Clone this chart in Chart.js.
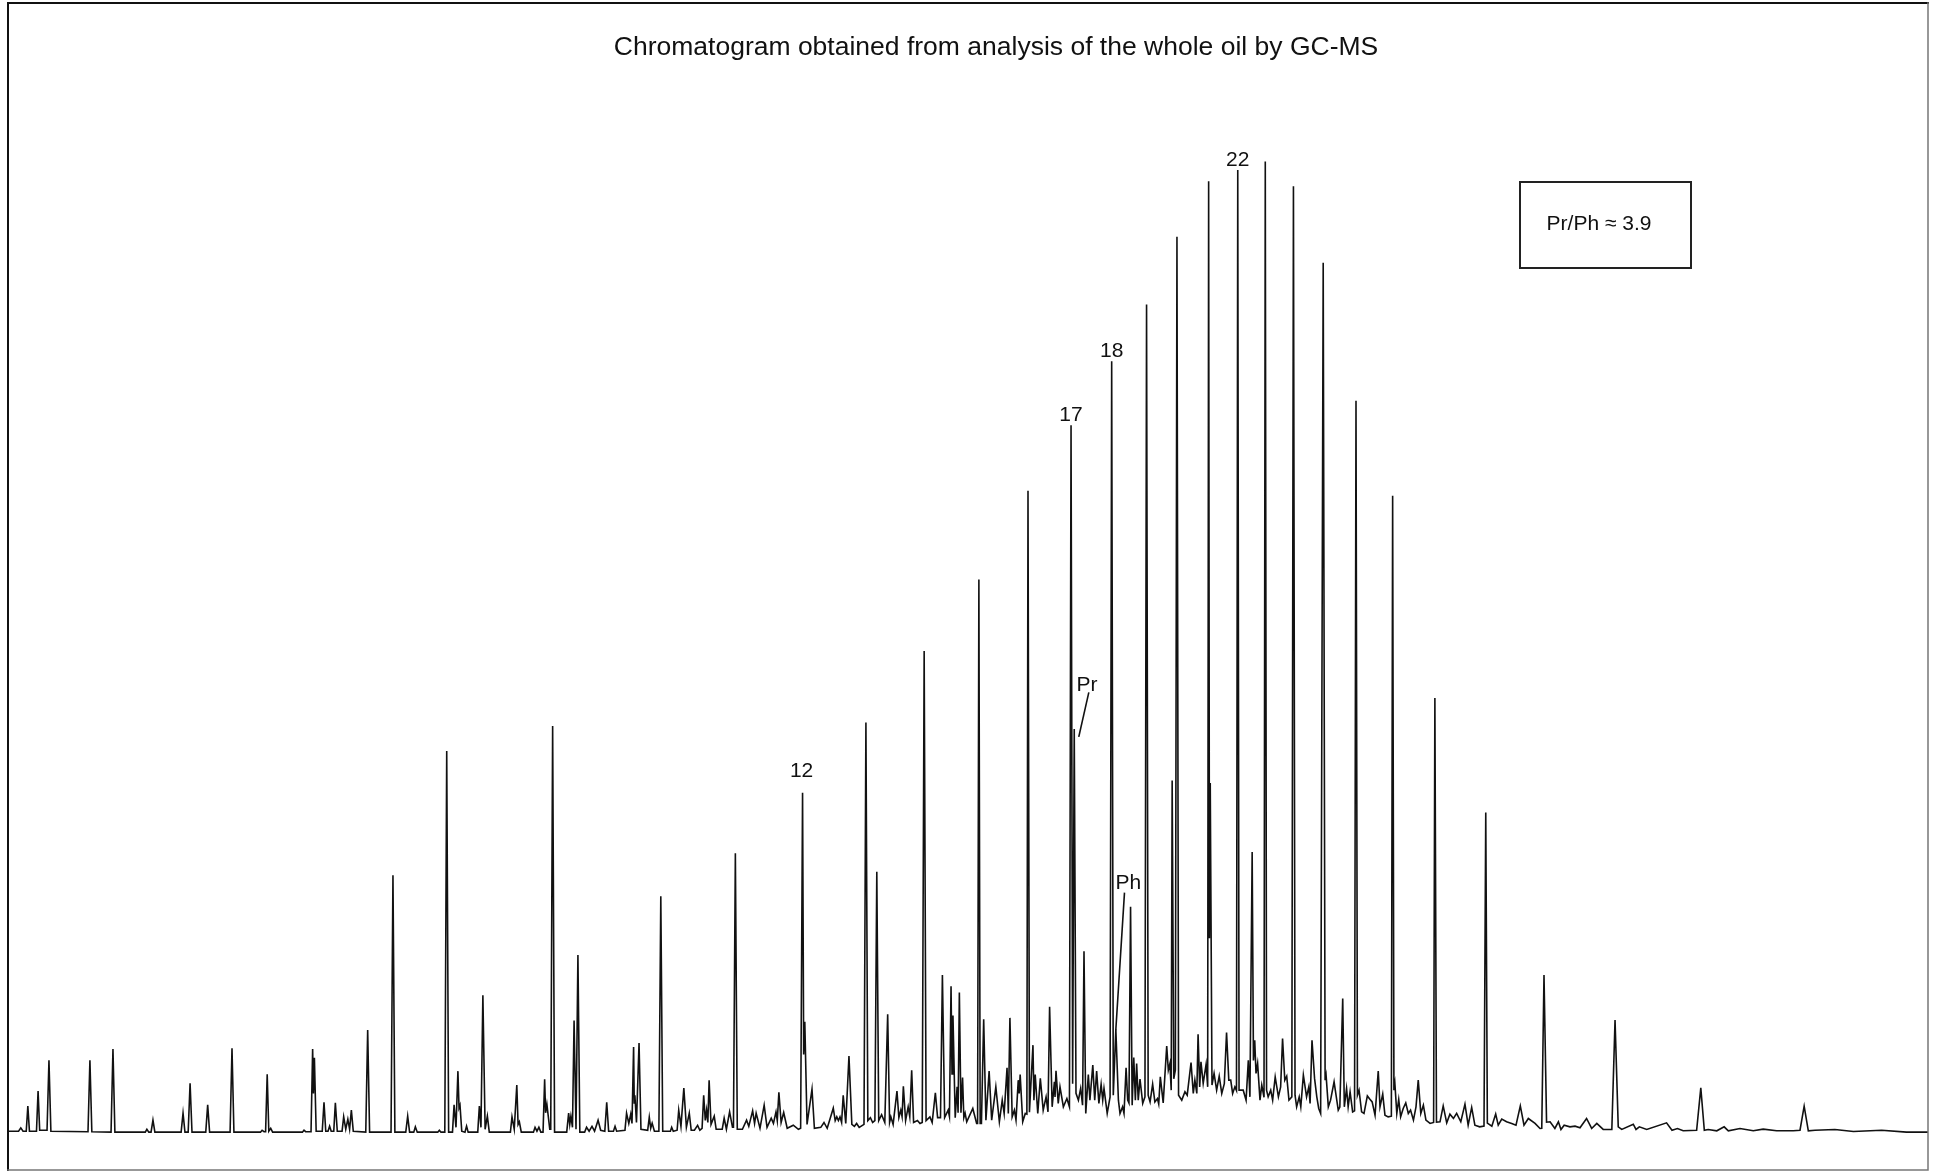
<!DOCTYPE html>
<html>
<head>
<meta charset="utf-8">
<title>Whole oil GC-MS chromatogram</title>
<script src="https://cdn.jsdelivr.net/npm/chart.js@4.4.1/dist/chart.umd.min.js"></script>
<style>
  html, body { margin: 0; padding: 0; background: #fff; }
  canvas { display: block; }
</style>
</head>
<body>
<canvas id="tic" width="1933" height="1171"></canvas>
<script>
// Total ion current trace: [retention time (min), relative abundance (%)]
// listed as the apexes and valleys of the trace, split by elution window.
const earlyTrace = [
  [0, 0.1], [0.33, 0.1], [0.40, 0.44], [0.47, 0.1], [0.57, 0.1], [0.62, 2.68], [0.67, 0.1],
  [0.89, 0.1], [0.94, 4.23], [0.99, 0.2], [1.22, 0.2], [1.28, 7.42], [1.34, 0.1],
  [2.50, 0.05], [2.56, 7.42], [2.62, 0.05], [3.22, 0], [3.28, 8.56], [3.34, 0],
  [4.29, 0], [4.34, 0.3], [4.40, 0], [4.47, 0], [4.53, 1.24], [4.59, 0],
  [5.41, 0], [5.47, 1.96], [5.53, 0], [5.63, 0], [5.69, 5.05], [5.75, 0],
  [6.18, 0], [6.24, 2.81], [6.30, 0], [6.94, 0], [7.00, 8.66], [7.06, 0],
  [7.89, 0], [7.94, 0.2], [8.00, 0.05], [8.05, 0.05], [8.10, 5.98], [8.15, 0.1], [8.21, 0.4], [8.27, 0],
  [9.20, 0], [9.25, 0.2], [9.30, 0.05], [9.47, 0.05], [9.52, 8.56], [9.545, 4.0], [9.575, 7.66], [9.63, 0.1],
  [9.82, 0.1], [9.875, 3.09], [9.93, 0.1], [10.00, 0.1], [10.05, 0.62], [10.10, 0.1],
  [10.18, 0.1], [10.23, 3.02], [10.29, 0.1], [10.44, 0.1], [10.49, 1.58], [10.555, 0.3], [10.62, 1.34],
  [10.675, 0.3], [10.73, 2.27], [10.79, 0.1], [11.18, 0], [11.24, 10.52], [11.30, 0],
  [11.97, 0], [12.03, 26.49], [12.09, 0], [12.43, 0], [12.49, 1.65], [12.55, 0],
  [12.68, 0], [12.73, 0.55], [12.79, 0], [13.43, 0], [13.48, 0.2], [13.53, 0],
  [13.65, 0], [13.71, 39.28], [13.77, 0], [13.89, 0], [13.94, 2.81], [14.00, 0.5], [14.06, 6.29],
  [14.095, 2.5], [14.125, 2.78], [14.18, 0.1], [14.28, 0], [14.33, 0.62], [14.38, 0],
  [14.68, 0], [14.73, 2.68], [14.78, 0.5], [14.84, 14.12], [14.91, 0.3], [14.98, 1.65], [15.04, 0]
];

const midTrace = [
  [15.70, 0], [15.75, 1.58], [15.82, 0.3], [15.90, 4.85], [15.94, 0.8], [15.98, 1.07], [16.04, 0],
  [16.42, 0], [16.47, 0.5], [16.53, 0.1], [16.59, 0.5], [16.65, 0], [16.72, 0], [16.77, 5.46],
  [16.80, 2.0], [16.84, 2.89], [16.93, 0.3], [16.96, 0.3], [17.02, 41.86], [17.08, 0],
  [17.46, 0], [17.52, 1.96], [17.555, 0.8], [17.59, 1.65], [17.64, 0.5], [17.69, 11.52], [17.75, 0.3],
  [17.81, 18.25], [17.87, 0], [18.02, 0], [18.08, 0.5], [18.16, 0.1], [18.25, 0.6], [18.33, 0.1],
  [18.44, 1.24], [18.52, 0.2], [18.65, 0.1], [18.71, 3.09], [18.77, 0.1], [18.92, 0.1], [18.97, 0.6], [19.02, 0.1],
  [19.28, 0.2], [19.33, 1.96], [19.40, 0.9], [19.46, 1.86], [19.50, 0.9], [19.55, 8.79], [19.57, 3.0],
  [19.59, 3.81], [19.64, 1.0], [19.72, 9.18], [19.78, 0.3], [19.99, 0.2], [20.04, 1.55], [20.085, 0.4],
  [20.13, 0.93], [20.20, 0.1], [20.34, 0.1], [20.40, 24.33], [20.46, 0.1], [20.70, 0.1], [20.74, 0.5], [20.79, 0.1],
  [20.91, 0.2], [20.96, 2.27], [21.03, 0.6], [21.12, 4.54], [21.20, 0.5], [21.29, 1.96], [21.35, 0.2],
  [21.45, 0.2], [21.55, 0.7], [21.62, 0.2], [21.69, 0.4], [21.74, 3.81], [21.79, 1.2], [21.83, 2.27],
  [21.87, 1.0], [21.91, 5.36], [21.97, 0.8], [22.07, 1.65], [22.13, 0.3], [22.32, 0.3], [22.38, 1.44],
  [22.45, 0.3], [22.55, 2.09], [22.64, 0.5], [22.67, 0.5], [22.73, 28.76], [22.79, 0.3], [22.95, 0.3],
  [23.08, 1.24], [23.15, 0.6], [23.27, 2.2], [23.33, 0.9], [23.38, 1.96], [23.50, 0.4], [23.63, 2.78],
  [23.72, 0.5], [23.85, 1.44], [23.92, 0.9], [24.00, 2.09], [24.04, 1.2], [24.09, 4.12], [24.16, 1.0],
  [24.24, 2.03], [24.35, 0.4], [24.54, 0.72], [24.70, 0.3], [24.77, 0.4], [24.83, 34.98], [24.865, 8.0],
  [24.90, 11.37], [24.97, 0.8], [25.125, 4.43], [25.20, 0.4], [25.40, 0.5], [25.50, 1.0], [25.60, 0.4],
  [25.79, 2.47], [25.85, 1.2], [25.90, 1.58], [25.95, 1.2], [26.00, 1.58], [26.05, 1.0], [26.10, 3.81],
  [26.18, 0.9], [26.28, 7.84], [26.37, 0.8], [26.45, 0.6], [26.52, 0.9], [26.60, 0.5], [26.75, 0.8],
  [26.81, 42.23], [26.87, 1.2], [26.95, 1.5], [27.02, 1.0], [27.09, 1.2], [27.15, 26.85], [27.21, 1.2],
  [27.30, 1.8], [27.40, 1.0], [27.49, 12.16], [27.55, 1.0], [27.59, 1.58], [27.66, 0.8], [27.78, 4.23],
  [27.84, 1.5], [27.90, 2.27], [27.94, 1.6], [27.98, 4.74], [28.05, 1.2], [28.13, 2.61], [28.18, 1.6],
  [28.24, 6.39], [28.30, 1.0], [28.42, 1.2], [28.50, 0.9], [28.57, 1.0], [28.63, 49.59], [28.69, 1.2],
  [28.81, 1.58], [28.88, 1.0], [28.98, 4.05], [29.05, 1.5], [29.14, 1.5], [29.20, 16.19], [29.27, 1.5],
  [29.38, 2.27], [29.42, 1.6], [29.47, 15.05], [29.50, 6.0], [29.53, 12.03], [29.60, 1.5], [29.66, 4.67],
  [29.69, 2.0], [29.73, 14.40], [29.78, 2.0], [29.83, 5.62], [29.87, 1.5], [29.91, 1.96], [29.96, 1.07]
];

// unresolved complex mixture hump under the C17-C28 range
const humpTrace = [
  [30.15, 2.44], [30.27, 0.9], [30.30, 0.9], [30.34, 56.97], [30.38, 0.9], [30.42, 0.9], [30.49, 11.65],
  [30.56, 1.24], [30.66, 6.29], [30.74, 1.24], [30.87, 4.67], [30.98, 1.07], [31.07, 3.3], [31.13, 1.92],
  [31.22, 6.63], [31.26, 1.92], [31.31, 11.78], [31.38, 1.58], [31.45, 2.27], [31.50, 1.24], [31.57, 5.36],
  [31.60, 3.99], [31.63, 5.95], [31.71, 1.07], [31.79, 1.93], [31.84, 1.86], [31.875, 66.11], [31.92, 2.06],
  [32.03, 8.97], [32.06, 3.3], [32.10, 5.95], [32.18, 1.93], [32.26, 5.54], [32.35, 2.27], [32.44, 3.64],
  [32.50, 2.09], [32.55, 12.92], [32.63, 2.61], [32.70, 5.19], [32.72, 3.64], [32.75, 6.32], [32.82, 2.96],
  [32.875, 4.67], [32.98, 2.61], [33.09, 3.47], [33.17, 2.61], [33.22, 72.86], [33.27, 5.0], [33.32, 41.55],
  [33.375, 4.0], [33.45, 3.3], [33.52, 4.5], [33.58, 2.78], [33.625, 18.66], [33.68, 1.93], [33.76, 5.95],
  [33.81, 3.3], [33.90, 6.91], [33.96, 3.3], [34.02, 6.29], [34.09, 2.96], [34.16, 4.92], [34.21, 3.3],
  [34.25, 4.5], [34.35, 1.93], [34.44, 3.64], [34.49, 79.46], [34.54, 3.81], [34.62, 10.59], [34.70, 3.3],
  [34.75, 1.93], [34.83, 2.61], [34.875, 1.93], [34.94, 6.63], [34.99, 3.3], [35.03, 3.0], [35.08, 23.23],
  [35.13, 2.78], [35.18, 7.7], [35.23, 3.3], [35.27, 7.08], [35.32, 3.3], [35.375, 5.48], [35.46, 2.96],
  [35.53, 3.64], [35.58, 85.31], [35.63, 3.81], [35.69, 3.12], [35.77, 4.95], [35.84, 3.12], [35.92, 3.47],
  [35.96, 2.9], [36.01, 5.7], [36.10, 3.02], [36.21, 8.87], [36.26, 6.39], [36.31, 7.08], [36.35, 4.33],
  [36.38, 36.25], [36.43, 5.5], [36.48, 6.39], [36.53, 92.3], [36.58, 3.81], [36.68, 3.3], [36.78, 4.16],
  [36.85, 3.81], [36.97, 7.18], [37.04, 3.99], [37.09, 5.36], [37.15, 4.0], [37.19, 10.1], [37.24, 4.67],
  [37.28, 7.25], [37.35, 5.02], [37.44, 6.98], [37.49, 4.67], [37.52, 98.02], [37.545, 20], [37.57, 36.0],
  [37.625, 4.85], [37.69, 6.05], [37.77, 4.33], [37.85, 5.77], [37.93, 3.99], [38.01, 5.0], [38.08, 10.28],
  [38.15, 5.36], [38.21, 5.36], [38.27, 3.99], [38.34, 4.67], [38.39, 4.3], [38.43, 99.18], [38.47, 4.33],
  [38.60, 4.33], [38.69, 3.3], [38.76, 7.42], [38.81, 3.64], [38.88, 28.88], [38.92, 7.4], [38.96, 9.48],
  [39.00, 6.05], [39.05, 7.08], [39.125, 3.3], [39.18, 4.85], [39.25, 3.6], [39.29, 100.05], [39.33, 4.33],
  [39.38, 3.64], [39.46, 4.33], [39.52, 3.3], [39.60, 5.7], [39.70, 3.64], [39.77, 4.67], [39.83, 9.66],
  [39.90, 5.36], [39.96, 5.77], [40.03, 3.3], [40.12, 3.64], [40.17, 97.5], [40.22, 3.81], [40.27, 2.61],
  [40.35, 3.64], [40.40, 2.61], [40.48, 5.88], [40.58, 3.64], [40.65, 4.67], [40.69, 2.96], [40.75, 9.48],
  [40.83, 5.54], [40.90, 3.64], [40.96, 2.44], [41.02, 1.93], [41.10, 89.63], [41.16, 5.36], [41.19, 5.88],
  [41.26, 2.61], [41.33, 3.3], [41.44, 5.19], [41.57, 2.27], [41.62, 2.6], [41.71, 13.78], [41.76, 2.61],
  [41.83, 4.5], [41.88, 2.61], [41.94, 4.16], [42.02, 2.09], [42.08, 2.2], [42.125, 75.39], [42.17, 3.81],
  [42.22, 4.33], [42.30, 2.09], [42.375, 1.93], [42.48, 3.74], [42.56, 3.4], [42.63, 3.12], [42.72, 1.75],
  [42.82, 6.29], [42.875, 2.61], [42.96, 3.92], [43.03, 1.75], [43.13, 1.58], [43.23, 1.65], [43.27, 65.61],
  [43.31, 4.33], [43.34, 5.02], [43.40, 1.93], [43.46, 3.37], [43.52, 1.58], [43.60, 2.44], [43.68, 3.02],
  [43.76, 1.93], [43.83, 2.27], [43.92, 1.24], [44.00, 2.61], [44.07, 5.36], [44.15, 1.93], [44.23, 2.78],
  [44.31, 1.24], [44.44, 0.9], [44.55, 1.0], [44.59, 44.76], [44.64, 1.03], [44.75, 1.07]
];

const lateTrace = [
  [44.85, 2.71], [44.96, 0.96], [45.06, 1.86], [45.17, 1.41], [45.27, 1.93], [45.40, 1.07], [45.53, 2.89],
  [45.63, 0.72], [45.74, 2.55], [45.84, 0.72], [45.99, 0.55], [46.125, 0.62], [46.18, 32.95], [46.23, 0.93],
  [46.37, 0.62], [46.49, 1.86], [46.57, 0.72], [46.68, 1.34], [46.83, 1.07], [46.99, 0.9], [47.125, 0.72],
  [47.26, 2.71], [47.375, 0.72], [47.51, 1.41], [47.72, 0.9], [47.875, 0.38], [47.93, 0.4], [48.00, 16.19],
  [48.08, 1.03], [48.19, 1.07], [48.34, 0.38], [48.45, 1.07], [48.53, 0.28], [48.63, 0.72], [48.81, 0.55],
  [48.97, 0.62], [49.125, 0.45], [49.33, 1.41], [49.49, 0.38], [49.65, 0.9], [49.85, 0.28], [50.12, 0.28],
  [50.22, 11.55], [50.32, 0.55], [50.43, 0.28], [50.79, 0.82], [50.875, 0.28], [50.98, 0.55], [51.21, 0.28],
  [51.83, 0.96], [52.00, 0.2], [52.17, 0.38], [52.35, 0.14], [52.77, 0.2], [52.90, 4.57], [53.01, 0.2],
  [53.13, 0.28], [53.40, 0.14], [53.63, 0.55], [53.76, 0.14], [54.125, 0.38], [54.54, 0.14], [54.85, 0.31],
  [55.27, 0.14], [55.79, 0.14], [56.00, 0.2], [56.13, 2.68], [56.26, 0.14], [56.47, 0.2], [57.09, 0.28],
  [57.67, 0.07], [58.55, 0.2], [59.33, 0], [60, 0]
];

// labelled peaks: n-alkane carbon numbers, pristane and phytane
const peakNames = ['12', '17', 'Pr', '18', 'Ph', '22'];
const peakRt = [24.83, 33.22, 33.32, 34.49, 34.62, 38.43];

const prPhRatio = 3.9;
const chartTitle = 'Chromatogram obtained from analysis of the whole oil by GC-MS';

const FONT = '"Liberation Sans", Arial, Helvetica, sans-serif';

const trace = [...earlyTrace, ...midTrace, ...humpTrace, ...lateTrace].map(([x, y]) => ({ x, y }));

function abundanceAt(rt) {
  const p = trace.find(d => d.x === rt);
  return p ? p.y : 0;
}

// label offsets from the peak apex; Pr and Ph sit on the shoulders of C17/C18,
// so they get a leader line
const labelStyle = {
  '12': { dx: -1, dy: -16 },
  Pr: { dx: 12.7, dy: -38, leader: [14.4, -36, 4.7, 7] },
  Ph: { dx: 12.6, dy: -140, leader: [8.6, -136, 0, 0] }
};

const annotate = {
  id: 'annotate',
  afterDraw(chart) {
    const { ctx, chartArea: a, scales: { x, y } } = chart;
    ctx.save();

    // frame
    ctx.lineCap = 'square';
    ctx.strokeStyle = '#111';
    ctx.lineWidth = 2;
    ctx.beginPath();
    ctx.moveTo(a.left, a.bottom);
    ctx.lineTo(a.left, a.top);
    ctx.lineTo(a.right, a.top);
    ctx.stroke();
    ctx.strokeStyle = '#777';
    ctx.lineWidth = 1.5;
    ctx.beginPath();
    ctx.moveTo(a.right, a.top);
    ctx.lineTo(a.right, a.bottom);
    ctx.lineTo(a.left, a.bottom);
    ctx.stroke();

    ctx.fillStyle = '#111';
    ctx.textAlign = 'center';

    // title
    ctx.font = '26.5px ' + FONT;
    ctx.textBaseline = 'middle';
    ctx.fillText(chartTitle, a.left + 988, a.top + 45);

    // peak labels
    ctx.font = '21px ' + FONT;
    ctx.textBaseline = 'alphabetic';
    ctx.lineWidth = 1.6;
    ctx.strokeStyle = '#111';
    peakNames.forEach((name, i) => {
      const px = x.getPixelForValue(peakRt[i]);
      const py = y.getPixelForValue(abundanceAt(peakRt[i]));
      const s = labelStyle[name] || { dx: 0, dy: -4 };
      ctx.fillText(name, px + s.dx, py + s.dy);
      if (s.leader) {
        const [x1, y1, x2, y2] = s.leader;
        ctx.beginPath();
        ctx.moveTo(px + x1, py + y1);
        ctx.lineTo(px + x2, py + y2);
        ctx.stroke();
      }
    });

    // Pr/Ph ratio box
    ctx.lineWidth = 2;
    ctx.strokeStyle = '#222';
    ctx.strokeRect(a.right - 408, a.top + 179, 171, 86);
    ctx.textBaseline = 'middle';
    ctx.fillText('Pr/Ph \u2248 ' + prPhRatio.toFixed(1), a.right - 329, a.top + 221);

    ctx.restore();
  }
};

new Chart(document.getElementById('tic'), {
  type: 'line',
  data: {
    datasets: [{
      label: 'TIC',
      data: trace,
      borderColor: '#111',
      borderWidth: 1.6,
      pointRadius: 0,
      tension: 0,
      fill: false
    }]
  },
  options: {
    responsive: false,
    animation: false,
    devicePixelRatio: 1,
    parsing: false,
    layout: { padding: { top: 3, left: 8, right: 5, bottom: 1 } },
    scales: {
      x: { type: 'linear', min: 0, max: 60, display: false },
      y: { type: 'linear', min: -3.9, max: 116.4, display: false }
    },
    plugins: {
      legend: { display: false },
      tooltip: { enabled: false },
      title: { display: false }
    }
  },
  plugins: [annotate]
});
</script>
</body>
</html>
